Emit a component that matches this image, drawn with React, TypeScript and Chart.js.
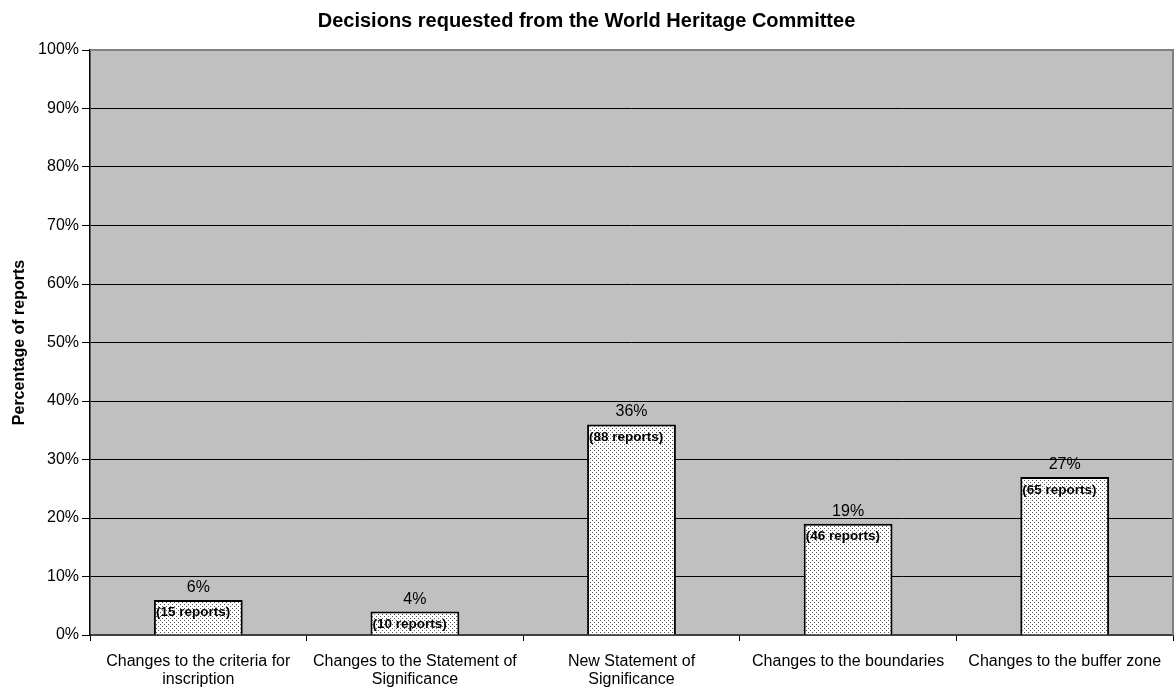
import React, { useEffect, useRef } from "react";
import { Chart, registerables } from "chart.js";

Chart.register(...registerables);

const categories: (string | string[])[] = [
  ["Changes to the criteria for", "inscription"],
  ["Changes to the Statement of", "Significance"],
  ["New Statement of", "Significance"],
  "Changes to the boundaries",
  "Changes to the buffer zone",
];
const percentages = [6, 4, 36, 19, 27];
const reportCounts = [15, 10, 88, 46, 65];
const yTicks = [0, 10, 20, 30, 40, 50, 60, 70, 80, 90, 100];

const FONT = "Arial, 'Liberation Sans', sans-serif";

function makeDotPattern(): CanvasPattern | string {
  const c = document.createElement("canvas");
  c.width = 4;
  c.height = 4;
  const g = c.getContext("2d");
  if (!g) return "#ffffff";
  g.fillStyle = "#ffffff";
  g.fillRect(0, 0, 4, 4);
  g.fillStyle = "#555555";
  g.fillRect(0, 0, 1, 1);
  g.fillRect(2, 2, 1, 1);
  const p = g.createPattern(c, "repeat");
  return p || "#ffffff";
}

// Grey plot background and the grey right/top frame
const plotFrame = {
  id: "plotFrame",
  beforeDraw(chart: any) {
    const { ctx, chartArea: a } = chart;
    ctx.save();
    ctx.fillStyle = "#c0c0c0";
    ctx.fillRect(a.left, a.top, a.right - a.left, a.bottom - a.top);
    ctx.restore();
  },
  afterDatasetsDraw(chart: any) {
    const { ctx, chartArea: a } = chart;
    ctx.save();
    ctx.strokeStyle = "#808080";
    ctx.lineWidth = 2;
    ctx.beginPath();
    ctx.moveTo(a.left, a.top);
    ctx.lineTo(a.right, a.top);
    ctx.lineTo(a.right, a.bottom);
    ctx.stroke();
    ctx.restore();
  },
};

// Percentage above each bar, report count inside its top edge
const barLabels = {
  id: "barLabels",
  afterDatasetsDraw(chart: any) {
    const { ctx } = chart;
    const meta = chart.getDatasetMeta(0);
    ctx.save();
    meta.data.forEach((bar: any, i: number) => {
      const left = bar.x - bar.width / 2;
      ctx.fillStyle = "#000000";
      ctx.textAlign = "center";
      ctx.textBaseline = "alphabetic";
      ctx.font = `16px ${FONT}`;
      ctx.fillText(`${percentages[i]}%`, bar.x, bar.y - 8);
      ctx.textAlign = "left";
      ctx.textBaseline = "top";
      ctx.font = `bold 13.5px ${FONT}`;
      ctx.fillText(`(${reportCounts[i]} reports)`, left + 2, bar.y + 6);
    });
    ctx.restore();
  },
};

export default function App() {
  const ref = useRef<HTMLCanvasElement>(null);

  useEffect(() => {
    if (!ref.current) return;
    const chart = new Chart(ref.current, {
      type: "bar",
      data: {
        labels: categories,
        datasets: [
          {
            data: percentages,
            backgroundColor: makeDotPattern() as any,
            borderColor: "#000000",
            borderWidth: 2,
            borderSkipped: "bottom",
            categoryPercentage: 0.41,
            barPercentage: 1,
          },
        ],
      },
      plugins: [plotFrame, barLabels],
      options: {
        animation: false,
        responsive: false,
        maintainAspectRatio: false,
        layout: { padding: { left: 0, right: 1, top: 0, bottom: 0 } },
        plugins: {
          legend: { display: false },
          tooltip: { enabled: false },
          title: {
            display: true,
            text: "Decisions requested from the World Heritage Committee",
            color: "#000000",
            font: { family: FONT, size: 20, weight: "bold" },
            padding: { top: 9, bottom: 17 },
          },
        },
        scales: {
          x: {
            offset: true,
            grid: {
              offset: true,
              drawOnChartArea: false,
              drawTicks: true,
              tickLength: 6,
              color: "#000000",
            },
            border: { color: "#404040", width: 2 },
            ticks: {
              color: "#000000",
              font: { family: FONT, size: 16, lineHeight: 1.1 },
              maxRotation: 0,
              autoSkip: false,
              padding: 12,
            },
            afterFit(scale: any) {
              scale.height = 56;
            },
          },
          y: {
            min: 0,
            max: 100,
            afterBuildTicks(scale: any) {
              scale.ticks = yTicks.map((v) => ({ value: v }));
            },
            grid: {
              color: (c: any) => (c.tick && c.tick.value === 100 ? "rgba(0,0,0,0)" : "#000000"),
              tickColor: "#000000",
              tickLength: 8,
              lineWidth: 1,
            },
            border: { color: "#000000", width: 1.5 },
            ticks: {
              color: "#000000",
              font: { family: FONT, size: 16 },
              padding: 3,
              callback: (v: any) => `${v}%`,
            },
            title: {
              display: true,
              text: "Percentage of reports",
              color: "#000000",
              font: { family: FONT, size: 16, weight: "bold" },
              padding: { top: 10, bottom: 0 },
            },
            afterFit(scale: any) {
              scale.width = 90;
            },
          },
        },
      },
    });
    return () => chart.destroy();
  }, []);

  return (
    <div style={{ position: "fixed", left: 0, top: 0, width: 1174, height: 691, background: "#ffffff" }}>
      <canvas ref={ref} width={1174} height={691} style={{ display: "block" }} />
    </div>
  );
}
